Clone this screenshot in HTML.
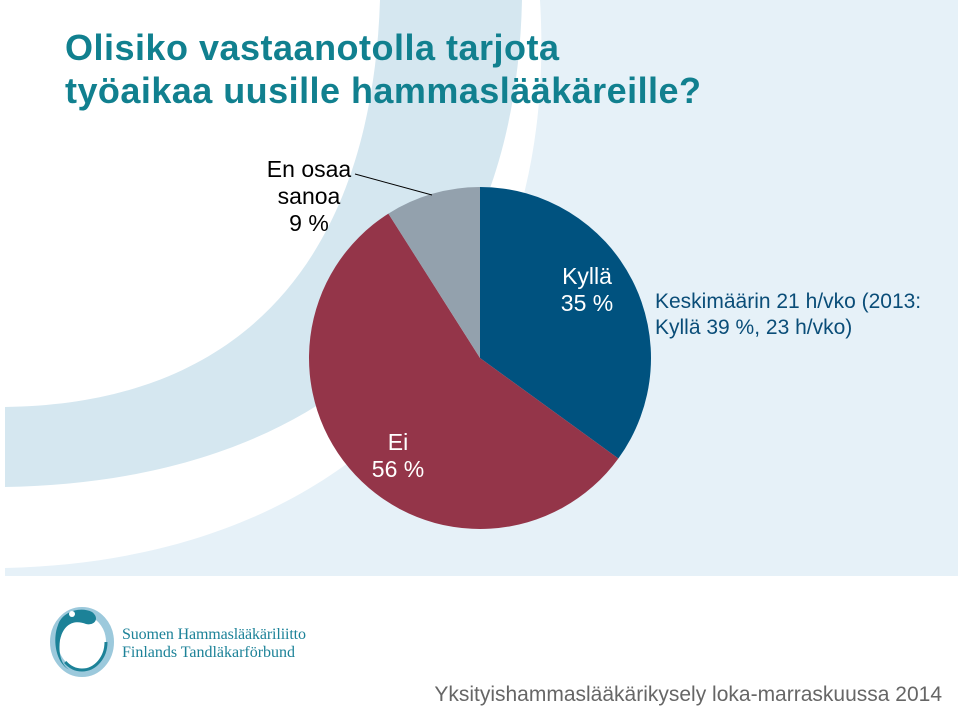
<!DOCTYPE html>
<html><head><meta charset="utf-8"><style>
body{margin:0;width:960px;height:706px;overflow:hidden;background:#fff;font-family:"Liberation Sans",sans-serif}
svg{display:block}
</style></head><body>
<svg width="960" height="706" viewBox="0 0 960 706">
<rect x="5" y="0" width="953" height="576" fill="#e6f1f8"/>
<path d="M5,0 L540,0 C560,330 360,560 5,568 Z" fill="#fff"/>
<path d="M5,487 C300,482 515,330 522,0 L380,0 C372,250 250,404 5,407 Z" fill="#d5e7f0"/>
<text x="65" y="60" font-size="36" font-weight="bold" fill="#11808f" textLength="494">Olisiko vastaanotolla tarjota</text>
<text x="65" y="103" font-size="36" font-weight="bold" fill="#11808f" textLength="636">työaikaa uusille hammaslääkäreille?</text>
<g id="pie"></g>
<line x1="355" y1="174" x2="432" y2="195" stroke="#000" stroke-width="1"/>
<g font-size="23" text-anchor="middle">
<text x="309" y="177" fill="#000"><tspan x="309">En osaa</tspan><tspan x="309" dy="27">sanoa</tspan><tspan x="309" dy="27">9 %</tspan></text>
<text x="587" y="284" fill="#fff"><tspan x="587">Kyllä</tspan><tspan x="587" dy="27">35 %</tspan></text>
<text x="398" y="450" fill="#fff"><tspan x="398">Ei</tspan><tspan x="398" dy="27">56 %</tspan></text>
</g>
<text x="655" y="308" font-size="21" fill="#0a4d78"><tspan x="655">Keskimäärin 21 h/vko (2013:</tspan><tspan x="655" dy="26">Kyllä 39 %, 23 h/vko)</tspan></text>
<g>
<ellipse cx="82" cy="642" rx="28" ry="31" fill="none" stroke="#9cc9dc" stroke-width="8"/>
<path d="M58,625 C62,612 80,606 92,612 C100,618 95,626 86,624 C76,620 64,622 60,640 C58,655 62,666 70,670 C56,664 52,640 58,625 Z" fill="#1c8298"/>
<ellipse cx="82" cy="642" rx="24" ry="28" fill="none" stroke="#1c8298" stroke-width="3" stroke-dasharray="60 200"/>
<circle cx="72" cy="614" r="3" fill="#fff"/>
<text x="122" y="639" font-family="Liberation Serif,serif" font-size="16" fill="#1c8298" textLength="184">Suomen Hammaslääkäriliitto</text>
<text x="122" y="657" font-family="Liberation Serif,serif" font-size="16" fill="#1c8298" textLength="173">Finlands Tandläkarförbund</text>
</g>
<text x="942" y="701" text-anchor="end" font-size="21" fill="#666">Yksityishammaslääkärikysely loka-marraskuussa 2014</text>
</svg>
<script>
const categories = ["Kyllä", "Ei", "En osaa sanoa"];
const values = [35, 56, 9];
const colors = ["#00527f", "#943549", "#93a1ad"];
const cx = 480, cy = 358, r = 171;
const g = document.getElementById('pie');
const total = values.reduce((a, b) => a + b, 0);
let a0 = 0;
values.forEach((v, i) => {
  const a1 = a0 + v / total * Math.PI * 2;
  const x0 = cx + r * Math.sin(a0), y0 = cy - r * Math.cos(a0);
  const x1 = cx + r * Math.sin(a1), y1 = cy - r * Math.cos(a1);
  const large = (a1 - a0) > Math.PI ? 1 : 0;
  const p = document.createElementNS('http://www.w3.org/2000/svg', 'path');
  p.setAttribute('d', `M${cx},${cy} L${x0},${y0} A${r},${r} 0 ${large} 1 ${x1},${y1} Z`);
  p.setAttribute('fill', colors[i]);
  
  
  g.appendChild(p);
  a0 = a1;
});
</script>
</body></html>
